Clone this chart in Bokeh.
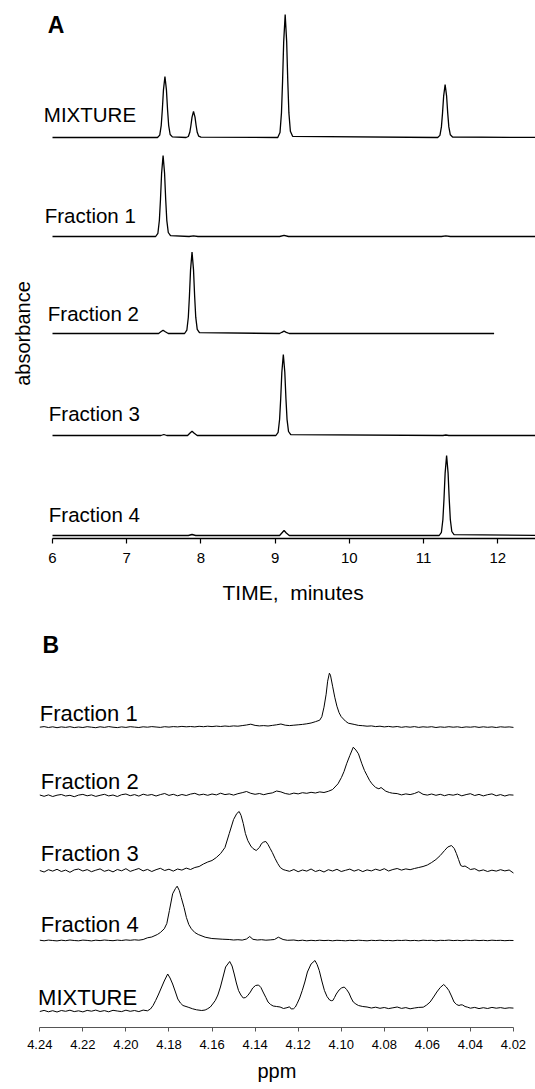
import numpy as np
from bokeh.plotting import figure
from bokeh.layouts import column
from bokeh.models import Range1d, FixedTicker, Label, PrintfTickFormatter, Title
from bokeh.embed import file_html
from bokeh.resources import INLINE

FONT = "Liberation Sans"

# ---------------- Panel A : HPLC traces (time in minutes, absorbance in arbitrary units) ----------------
A_NAMES = ["MIXTURE", "Fraction 1", "Fraction 2", "Fraction 3", "Fraction 4"]
A_TICKS = [6, 7, 8, 9, 10, 11, 12]

TIME_MIX = [6.00, 7.415, 7.445, 7.465, 7.48, 7.495, 7.515, 7.535, 7.55, 7.565, 7.585, 7.615,
            7.80, 7.83, 7.85, 7.865, 7.88, 7.90, 7.92, 7.935, 7.95, 7.97, 8.00,
            9.035, 9.065, 9.085, 9.10, 9.115, 9.135, 9.155, 9.17, 9.185, 9.205, 9.235,
            11.19, 11.22, 11.24, 11.255, 11.27, 11.29, 11.31, 11.325, 11.34, 11.36, 11.39, 12.60]
ABS_MIX = [0, 0, 2.4, 12.2, 28.0, 47.6, 61.0, 47.6, 28.0, 12.2, 3.0, 0.6,
           0, 1.0, 5.2, 12.0, 20.3, 26.0, 20.3, 12.0, 5.2, 1.3, 0.3,
           0, 4.9, 24.6, 56.6, 95.9, 123.0, 95.9, 56.6, 24.6, 6.2, 1.2,
           0, 2.1, 10.6, 24.4, 41.3, 53.0, 41.3, 24.4, 10.6, 2.7, 0.5, 0]

TIME_F1 = [6.00, 7.39, 7.42, 7.44, 7.455, 7.47, 7.49, 7.51, 7.525, 7.54, 7.56, 7.59,
           7.84, 7.90, 7.96, 9.06, 9.12, 9.18, 11.24, 11.30, 11.36, 12.60]
ABS_F1 = [0, 0, 3.2, 16.2, 37.3, 63.2, 81.0, 63.2, 37.3, 16.2, 4.0, 0.8,
          0, 0.6, 0, 0, 1.2, 0, 0, 0.6, 0, 0]

TIME_F2 = [6.00, 7.43, 7.46, 7.49, 7.52, 7.56,
           7.78, 7.81, 7.83, 7.845, 7.86, 7.88, 7.90, 7.915, 7.93, 7.95, 7.98,
           9.06, 9.09, 9.12, 9.15, 9.19, 11.95]
ABS_F2 = [0, 0, 1.7, 3.3, 1.7, 0,
          0, 3.3, 16.3, 37.5, 63.6, 81.5, 63.6, 37.5, 16.3, 4.1, 0.8,
          0, 1.2, 2.3, 1.2, 0, 0]

TIME_F3 = [6.00, 7.46, 7.50, 7.54, 7.82, 7.85, 7.88, 7.91, 7.95,
           9.01, 9.04, 9.06, 9.075, 9.09, 9.11, 9.13, 9.145, 9.16, 9.18, 9.21,
           11.26, 11.30, 11.34, 12.60]
ABS_F3 = [0, 0, 1.0, 0, 0, 2.2, 4.3, 2.2, 0,
          0, 3.2, 16.2, 37.3, 63.2, 81.0, 63.2, 37.3, 16.2, 4.0, 0.8,
          0, 0.5, 0, 0]

TIME_F4 = [6.00, 7.83, 7.88, 7.93, 9.06, 9.09, 9.12, 9.15, 9.19,
           11.21, 11.24, 11.26, 11.275, 11.29, 11.31, 11.33, 11.345, 11.36, 11.38, 11.41, 12.60]
ABS_F4 = [0, 0, 1.0, 0, 0, 2.5, 5.0, 2.5, 0,
          0, 3.2, 16.0, 36.8, 62.4, 80.0, 62.4, 36.8, 16.0, 4.0, 0.8, 0]

# ---------------- Panel B : 1H NMR traces (ppm, intensity in arbitrary units) ----------------
B_NAMES = ["Fraction 1", "Fraction 2", "Fraction 3", "Fraction 4", "MIXTURE"]
B_TICKS = [4.24, 4.22, 4.20, 4.18, 4.16, 4.14, 4.12, 4.10, 4.08, 4.06, 4.04, 4.02]

NMR_F1 = [(4.240, 0.0), (4.238, 0.6), (4.236, -0.3), (4.234, 0.4), (4.232, -0.5), (4.230, 0.3),
          (4.228, -0.2), (4.226, 0.5), (4.224, -0.4), (4.222, 0.2), (4.220, -0.3), (4.218, 0.5),
          (4.216, 0.0), (4.214, -0.5), (4.212, 0.4), (4.210, -0.2), (4.208, 0.6), (4.206, 0.0),
          (4.204, -0.4), (4.202, 0.3), (4.200, -0.2), (4.198, 0.5), (4.196, 0.1), (4.194, -0.3),
          (4.192, 0.4), (4.190, 0.0), (4.188, 0.6), (4.186, 0.2), (4.184, -0.2), (4.182, 0.5),
          (4.180, 0.1), (4.178, 0.6), (4.176, 0.3), (4.174, 0.8), (4.172, 0.4), (4.170, 0.7),
          (4.168, 0.3), (4.166, 0.9), (4.164, 0.5), (4.162, 1.0), (4.160, 0.6), (4.158, 1.1),
          (4.156, 0.7), (4.154, 1.2), (4.152, 0.8), (4.150, 1.3), (4.148, 1.0), (4.146, 1.6),
          (4.144, 2.2), (4.142, 3.0), (4.140, 1.8), (4.138, 1.3), (4.136, 1.6), (4.134, 1.2),
          (4.132, 1.8), (4.130, 2.4), (4.128, 3.2), (4.126, 2.0), (4.124, 1.6), (4.122, 2.0),
          (4.120, 2.4), (4.118, 2.8), (4.116, 3.4), (4.114, 4.2), (4.112, 5.5), (4.110, 7.0),
          (4.109, 10.5), (4.108, 20.0), (4.107, 33.0), (4.1063, 46.0), (4.1055, 54.0),
          (4.105, 52.0), (4.104, 41.0), (4.103, 30.0), (4.102, 21.0), (4.101, 14.5),
          (4.100, 10.5), (4.098, 6.0), (4.0967, 4.0), (4.094, 2.8), (4.092, 1.8), (4.090, 1.5),
          (4.088, 1.0), (4.086, 1.3), (4.084, 0.6), (4.082, 1.0), (4.080, 0.3), (4.078, 0.8),
          (4.076, 0.2), (4.074, 0.7), (4.072, -0.1), (4.070, 0.5), (4.068, 0.0), (4.066, 0.6),
          (4.064, -0.2), (4.062, 0.4), (4.060, 0.0), (4.058, 0.5), (4.056, -0.3), (4.054, 0.3),
          (4.052, -0.1), (4.050, 0.5), (4.048, 0.0), (4.046, 0.4), (4.044, -0.3), (4.042, 0.3),
          (4.040, 0.0), (4.038, 0.5), (4.036, -0.2), (4.034, 0.4), (4.032, -0.1), (4.030, 0.3),
          (4.028, -0.3), (4.026, 0.4), (4.024, 0.0), (4.022, 0.3), (4.020, -0.2)]

NMR_F2 = [(4.240, 0.5), (4.238, -0.8), (4.236, 0.6), (4.234, -1.0), (4.232, 0.3), (4.230, 1.0),
          (4.228, -0.5), (4.226, 0.2), (4.224, -1.2), (4.222, 0.4), (4.220, 1.1), (4.218, -0.3),
          (4.216, 0.6), (4.214, -0.9), (4.212, 0.2), (4.210, 1.2), (4.208, -0.4), (4.206, 0.5),
          (4.204, -1.0), (4.202, 0.8), (4.200, 1.5), (4.198, -0.2), (4.196, 0.9), (4.194, -0.6),
          (4.192, 1.3), (4.190, 0.2), (4.188, 1.0), (4.186, -0.5), (4.184, 0.9), (4.182, 2.0),
          (4.180, 0.1), (4.178, 1.2), (4.176, -0.3), (4.174, 1.0), (4.172, 0.0), (4.170, 1.4),
          (4.168, 2.2), (4.166, 0.5), (4.164, 1.3), (4.162, 0.2), (4.160, 1.5), (4.158, 0.6),
          (4.156, 2.3), (4.154, 0.9), (4.152, 1.6), (4.150, 0.4), (4.148, 1.8), (4.146, 2.8),
          (4.144, 4.0), (4.142, 2.2), (4.140, 1.2), (4.138, 2.0), (4.136, 0.8), (4.134, 1.9),
          (4.132, 2.6), (4.130, 4.5), (4.128, 3.6), (4.126, 2.0), (4.124, 1.2), (4.122, 2.4),
          (4.120, 1.6), (4.118, 2.8), (4.116, 2.2), (4.114, 3.2), (4.112, 2.5), (4.110, 3.6),
          (4.108, 3.0), (4.106, 4.2), (4.104, 6.0), (4.1015, 11.7), (4.0999, 18.0),
          (4.0987, 24.0), (4.0975, 31.7), (4.096, 40.0), (4.0944, 48.3), (4.0932, 45.5),
          (4.092, 41.7), (4.0904, 31.7), (4.0892, 25.0), (4.088, 20.0), (4.0868, 15.0),
          (4.0857, 11.7), (4.084, 8.0), (4.0825, 6.7), (4.0815, 8.0), (4.0793, 4.3),
          (4.0776, 3.0), (4.0762, 2.3), (4.074, 1.9), (4.072, 0.6), (4.070, 1.6), (4.068, 0.9),
          (4.066, 2.0), (4.064, 3.8), (4.062, 1.2), (4.060, 0.4), (4.058, 1.5), (4.056, 0.2),
          (4.054, 1.2), (4.052, -0.2), (4.050, 1.0), (4.048, 0.3), (4.046, 1.4), (4.044, -0.3),
          (4.042, 0.9), (4.040, 1.8), (4.038, 0.0), (4.036, 1.1), (4.034, -0.4), (4.032, 0.8),
          (4.030, 1.6), (4.028, -0.2), (4.026, 0.9), (4.024, -0.5), (4.022, 0.7), (4.020, 0.4)]

NMR_F3 = [(4.240, 0.0), (4.238, -1.5), (4.236, 0.8), (4.234, -0.6), (4.232, 1.2), (4.230, -1.0),
          (4.228, 0.4), (4.226, -1.8), (4.224, 0.6), (4.222, 1.5), (4.220, -0.5), (4.218, 0.9),
          (4.216, -1.2), (4.214, 0.3), (4.212, 1.6), (4.210, -0.8), (4.208, 0.5), (4.206, -1.4),
          (4.204, 1.0), (4.202, -0.3), (4.200, 1.8), (4.198, -0.9), (4.196, 0.6), (4.194, 2.0),
          (4.192, -0.4), (4.190, 1.1), (4.188, -1.0), (4.186, 0.8), (4.184, 2.2), (4.182, 0.0),
          (4.180, 1.3), (4.178, -0.6), (4.176, 1.5), (4.174, 0.4), (4.172, 2.4), (4.170, 1.0),
          (4.168, 3.0), (4.166, 4.0), (4.164, 6.5), (4.162, 8.5), (4.160, 10.0), (4.158, 13.0),
          (4.156, 17.0), (4.154, 23.0), (4.152, 37.0), (4.150, 51.0), (4.1485, 57.0),
          (4.1474, 59.0), (4.1465, 55.0), (4.1455, 47.0), (4.1445, 37.0), (4.1434, 30.0),
          (4.142, 24.5), (4.141, 22.0), (4.1395, 20.0), (4.138, 23.0), (4.137, 27.0),
          (4.136, 28.5), (4.135, 29.0), (4.134, 26.0), (4.133, 22.0), (4.132, 18.0),
          (4.1307, 12.0), (4.1295, 7.0), (4.1283, 3.0), (4.127, 1.0), (4.126, 0.3),
          (4.124, -0.8), (4.122, 1.0), (4.120, -1.2), (4.118, 0.5), (4.116, -0.6), (4.114, 1.5),
          (4.112, -1.0), (4.110, 0.3), (4.108, -1.5), (4.106, 0.8), (4.104, -0.5), (4.102, 1.2),
          (4.100, -1.0), (4.098, 0.2), (4.096, 1.4), (4.094, -0.6), (4.092, 0.9), (4.090, -1.1),
          (4.088, 0.6), (4.086, -0.4), (4.084, 1.3), (4.082, 0.0), (4.080, 1.8), (4.078, -0.5),
          (4.076, 1.0), (4.074, 2.0), (4.072, 0.4), (4.070, 1.6), (4.068, 0.8), (4.066, 2.0),
          (4.064, 3.0), (4.062, 4.0), (4.060, 5.5), (4.058, 8.0), (4.056, 11.0), (4.054, 15.0),
          (4.052, 20.0), (4.0505, 23.5), (4.0488, 25.0), (4.0475, 22.0), (4.0465, 17.0),
          (4.0455, 11.0), (4.0445, 5.0), (4.0435, 4.0), (4.0425, 4.5), (4.041, 2.5),
          (4.040, 1.0), (4.038, 1.8), (4.036, -0.5), (4.034, 0.6), (4.032, -1.0), (4.030, 0.3),
          (4.028, -0.6), (4.026, 0.8), (4.024, -0.4), (4.022, 0.5), (4.020, -2.5)]

NMR_F4 = [(4.240, 0.3), (4.238, -0.3), (4.236, 0.4), (4.234, 0.0), (4.232, -0.4), (4.230, 0.3),
          (4.228, -0.2), (4.226, 0.5), (4.224, 0.0), (4.222, -0.3), (4.220, 0.4), (4.218, 0.1),
          (4.216, -0.4), (4.214, 0.3), (4.212, -0.1), (4.210, 0.5), (4.208, 0.1), (4.206, -0.2),
          (4.204, 0.4), (4.202, 0.0), (4.200, 0.6), (4.198, 0.2), (4.196, 0.7), (4.194, 0.3),
          (4.192, 1.0), (4.190, 2.7), (4.188, 3.5), (4.1854, 6.0), (4.184, 8.0), (4.1822, 11.7),
          (4.181, 17.0), (4.1798, 30.0), (4.1783, 46.7), (4.177, 52.0), (4.1762, 54.3),
          (4.1752, 50.0), (4.1743, 43.0), (4.173, 33.0), (4.1719, 23.0), (4.1708, 16.0),
          (4.1696, 11.7), (4.168, 8.0), (4.1664, 6.0), (4.1632, 3.3), (4.1601, 2.0),
          (4.1553, 1.3), (4.152, 1.0), (4.150, 0.5), (4.148, 0.8), (4.146, 0.4), (4.144, 1.5),
          (4.1425, 4.0), (4.141, 1.2), (4.139, 0.5), (4.137, 0.8), (4.135, 0.3), (4.133, 0.6),
          (4.131, 1.0), (4.1292, 3.3), (4.127, 1.0), (4.125, 0.2), (4.122, 0.5), (4.120, -0.2),
          (4.118, 0.3), (4.116, -0.3), (4.114, 0.2), (4.112, -0.2), (4.110, 0.3), (4.108, -0.1),
          (4.106, 0.2), (4.104, -0.3), (4.102, 0.2), (4.100, 0.0), (4.098, -0.3), (4.096, 0.2),
          (4.094, -0.2), (4.092, 0.3), (4.090, 0.0), (4.088, -0.3), (4.086, 0.2), (4.084, -0.1),
          (4.082, 0.3), (4.080, -0.2), (4.078, 0.1), (4.076, -0.3), (4.074, 0.2), (4.072, 0.0),
          (4.070, 0.3), (4.068, -0.2), (4.066, 0.1), (4.064, -0.3), (4.062, 0.3), (4.060, 0.0),
          (4.058, 0.2), (4.056, -0.3), (4.054, 0.2), (4.052, 0.0), (4.050, 0.4), (4.048, -0.1),
          (4.046, 0.2), (4.044, -0.2), (4.042, 0.3), (4.040, 0.0), (4.038, 0.3), (4.036, -0.1),
          (4.034, 0.2), (4.032, -0.2), (4.030, 0.3), (4.028, 0.0), (4.026, 0.2), (4.024, -0.2),
          (4.022, 0.1), (4.020, 0.0)]

NMR_MIX = [(4.240, -0.5), (4.238, 0.6), (4.236, -0.8), (4.234, 0.3), (4.232, -1.0), (4.230, 0.5),
           (4.228, -0.3), (4.226, 0.8), (4.224, -0.6), (4.222, 0.2), (4.220, -0.9), (4.218, 0.6),
           (4.216, -0.2), (4.214, 0.9), (4.212, -0.5), (4.210, 0.4), (4.208, -0.8), (4.206, 0.7),
           (4.204, 0.0), (4.202, -0.6), (4.200, 0.8), (4.198, -0.3), (4.196, 0.5), (4.194, -0.6),
           (4.192, 0.9), (4.190, 0.2), (4.1886, 2.0), (4.1874, 5.5), (4.1862, 10.5),
           (4.185, 16.0), (4.1838, 22.0), (4.1822, 30.0), (4.1806, 37.0), (4.1795, 33.0),
           (4.1783, 27.0), (4.177, 19.0), (4.1759, 12.0), (4.1747, 8.0), (4.1735, 5.5),
           (4.1711, 3.8), (4.169, 2.2), (4.1672, 1.2), (4.1648, 0.5), (4.1632, 1.0),
           (4.162, 2.3), (4.1608, 4.0), (4.1597, 7.0), (4.1585, 10.5), (4.1573, 16.0),
           (4.1561, 24.0), (4.1549, 34.0), (4.1537, 44.0), (4.1518, 49.5), (4.1507, 45.0),
           (4.1497, 37.0), (4.1487, 28.0), (4.1477, 20.5), (4.1466, 16.0), (4.1455, 13.0),
           (4.1444, 13.5), (4.1434, 15.5), (4.1422, 19.0), (4.1411, 23.0), (4.1398, 25.5),
           (4.1384, 26.0), (4.1373, 23.5), (4.1363, 19.0), (4.135, 13.5), (4.134, 9.0),
           (4.1328, 6.5), (4.1316, 5.0), (4.130, 4.5), (4.1284, 4.0), (4.1268, 2.5),
           (4.1252, 3.3), (4.124, 4.2), (4.1232, 2.0), (4.1221, 2.3), (4.1213, 4.0),
           (4.1205, 7.3), (4.1193, 13.0), (4.1181, 20.5), (4.1169, 29.0), (4.1157, 39.0),
           (4.114, 47.0), (4.1122, 50.5), (4.1112, 46.5), (4.1102, 40.5), (4.109, 30.0),
           (4.1078, 20.5), (4.1066, 14.5), (4.1054, 11.0), (4.1046, 10.3), (4.1039, 10.5),
           (4.1031, 13.5), (4.1023, 17.0), (4.101, 21.0), (4.0999, 23.0), (4.0986, 24.0),
           (4.0975, 21.5), (4.0964, 18.0), (4.0954, 13.0), (4.0944, 9.0), (4.0932, 7.0),
           (4.092, 5.5), (4.090, 4.5), (4.088, 4.0), (4.086, 3.0), (4.084, 3.8), (4.082, 2.7),
           (4.080, 3.5), (4.078, 2.4), (4.076, 3.2), (4.074, 4.0), (4.072, 2.6), (4.070, 3.4),
           (4.068, 2.2), (4.066, 3.0), (4.064, 3.6), (4.0619, 3.8), (4.0603, 6.0),
           (4.0587, 9.0), (4.0571, 14.0), (4.0556, 19.0), (4.054, 23.5), (4.0524, 26.5),
           (4.0512, 24.0), (4.050, 20.5), (4.0488, 15.0), (4.0476, 9.0), (4.0464, 6.5),
           (4.0453, 5.5), (4.0444, 6.2), (4.0436, 6.0), (4.0425, 4.5), (4.0413, 3.8),
           (4.040, 2.8), (4.038, 3.6), (4.036, 2.4), (4.034, 3.3), (4.032, 2.5), (4.030, 3.6),
           (4.028, 2.8), (4.026, 3.4), (4.024, 2.6), (4.022, 3.2), (4.020, 2.9)]

# ---------------- layout constants (pixel geometry, stacking offsets, label placement) ----------------
W = 535
A_H, B_H = 618, 471
A_PX_PER_MIN = 74.22      # screen px per minute
A_AXIS_LEFT = 52          # px where t = 6 sits
A_FRAME_H = 538
B_PX_PER_PPM = 2153.0     # screen px per ppm
B_AXIS_LEFT = 39.3        # px where 4.24 ppm sits
B_FRAME_H = 409
LBL_SHIFT = 9.0           # compensates the renderer's baseline placement of labels

A_TRACES = [(TIME_MIX, ABS_MIX), (TIME_F1, ABS_F1), (TIME_F2, ABS_F2), (TIME_F3, ABS_F3), (TIME_F4, ABS_F4)]
A_OFFSETS = [401, 302, 205, 103, 3]
A_LABEL_Y = [415.3, 314.0, 216.3, 116.3, 15.3]
A_LABEL_DX = [-8.7, -7.8, -4.7, -3.7, -3.7]

B_TRACES = [NMR_F1, NMR_F2, NMR_F3, NMR_F4, NMR_MIX]
B_OFFSETS = [300.3, 232.0, 157.0, 87.0, 16.5]
B_LABEL_Y = [305.3, 237.0, 165.3, 93.7, 21.3]
B_LABEL_DX = [0.0, 1.0, 1.0, 1.0, -1.7]


def style(p):
    p.xgrid.visible = False
    p.ygrid.visible = False
    p.outline_line_color = None
    p.background_fill_color = "white"
    p.border_fill_color = "white"


# ---------------- Figure A ----------------
a_start = A_TICKS[0] - A_AXIS_LEFT / A_PX_PER_MIN
a_end = A_TICKS[0] + (W - A_AXIS_LEFT) / A_PX_PER_MIN
pa = figure(width=W, height=A_H, x_range=Range1d(a_start, a_end), y_range=Range1d(0, A_FRAME_H),
            output_backend="svg", toolbar_location=None, y_axis_location=None,
            min_border_left=0, min_border_right=0, min_border_top=0,
            min_border_bottom=A_H - A_FRAME_H)
style(pa)
xa = pa.xaxis[0]
xa.bounds = (A_TICKS[0], a_end)
xa.ticker = FixedTicker(ticks=A_TICKS, minor_ticks=[])
xa.axis_line_color = "black"
xa.axis_line_width = 1.5
xa.major_tick_line_color = "black"
xa.major_tick_line_width = 1.2
xa.major_tick_out = 5
xa.major_tick_in = 0
xa.minor_tick_line_color = None
xa.major_label_text_font = FONT
xa.major_label_text_font_size = "15px"
xa.major_label_text_color = "black"
xa.major_label_standoff = 9

pa.add_layout(Title(text="TIME,\u00a0 minutes", align="left", offset=222, standoff=26,
                    vertical_align="bottom",
                    text_font=FONT, text_font_size="21px", text_font_style="normal",
                    text_color="black"), "below")

for (t, a), off in zip(A_TRACES, A_OFFSETS):
    pa.line(t, np.array(a) + off, line_color="black", line_width=1.3)

for name, ly, dx in zip(A_NAMES, A_LABEL_Y, A_LABEL_DX):
    pa.add_layout(Label(x=A_TICKS[0], y=ly + LBL_SHIFT, x_offset=dx, text=name, text_font=FONT,
                        text_font_size="20.5px", text_color="black",
                        text_align="left", text_baseline="alphabetic"))

pa.add_layout(Label(x=A_TICKS[0], y=504.7 + LBL_SHIFT, x_offset=-4.7, text="A", text_font=FONT,
                    text_font_size="23px", text_font_style="bold", text_color="black",
                    text_baseline="alphabetic"))
pa.add_layout(Label(x=A_TICKS[0], y=205, x_offset=-30, text="absorbance", text_font=FONT,
                    text_font_size="20px", text_color="black", angle=np.pi / 2,
                    text_align="center", text_baseline="middle"))

# ---------------- Figure B ----------------
b_start = B_TICKS[0] + B_AXIS_LEFT / B_PX_PER_PPM
b_end = B_TICKS[0] - (W - B_AXIS_LEFT) / B_PX_PER_PPM
pb = figure(width=W, height=B_H, x_range=Range1d(b_start, b_end), y_range=Range1d(0, B_FRAME_H),
            output_backend="svg", toolbar_location=None, y_axis_location=None,
            min_border_left=0, min_border_right=0, min_border_top=0,
            min_border_bottom=B_H - B_FRAME_H)
style(pb)
xb = pb.xaxis[0]
xb.bounds = (B_TICKS[-1], B_TICKS[0])
xb.ticker = FixedTicker(ticks=B_TICKS, minor_ticks=[])
xb.formatter = PrintfTickFormatter(format="%.2f")
xb.axis_line_color = "#555555"
xb.axis_line_width = 1
xb.major_tick_line_color = "#555555"
xb.major_tick_line_width = 1
xb.major_tick_out = 4
xb.major_tick_in = 0
xb.minor_tick_line_color = None
xb.major_label_text_font = FONT
xb.major_label_text_font_size = "13px"
xb.major_label_text_color = "black"
xb.major_label_standoff = 8

pb.add_layout(Title(text="ppm", align="left", offset=257, standoff=12, vertical_align="bottom",
                    text_font=FONT, text_font_size="20px", text_font_style="normal",
                    text_color="black"), "below")

for pts, off in zip(B_TRACES, B_OFFSETS):
    ppm = [q for q, _ in pts]
    inten = [v for _, v in pts]
    pb.line(ppm, np.array(inten) + off, line_color="black", line_width=1.0)

for name, ly, dx in zip(B_NAMES, B_LABEL_Y, B_LABEL_DX):
    pb.add_layout(Label(x=B_TICKS[0], y=ly + LBL_SHIFT, x_offset=dx, text=name, text_font=FONT,
                        text_font_size="22px", text_color="black",
                        text_align="left", text_baseline="alphabetic"))

pb.add_layout(Label(x=B_TICKS[0], y=373.7 + LBL_SHIFT, x_offset=2.7, text="B", text_font=FONT,
                    text_font_size="23px", text_font_style="bold", text_color="black",
                    text_baseline="alphabetic"))

layout = column(pa, pb)
open("out.html", "w").write(file_html(layout, INLINE))
